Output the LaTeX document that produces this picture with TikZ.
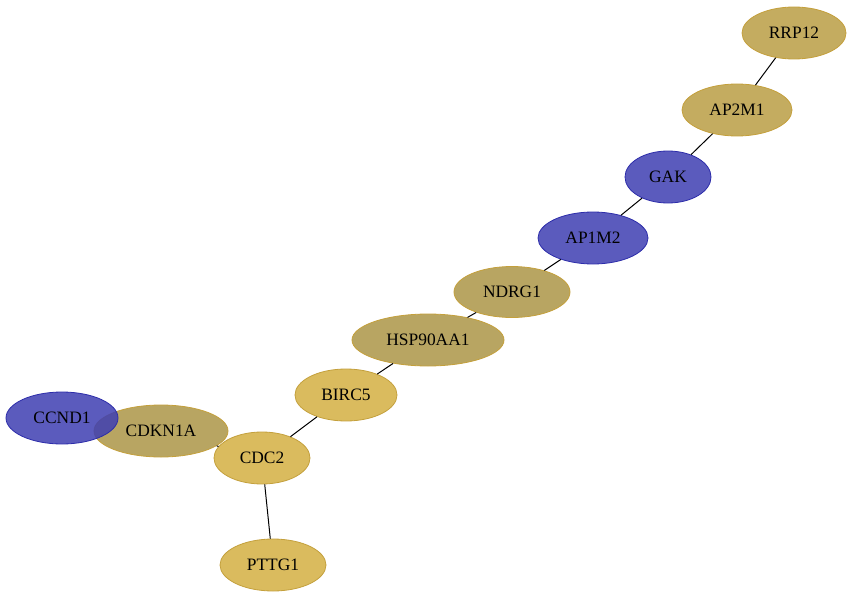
\documentclass[tikz,border=0pt]{standalone}
\usepackage{fontspec}
\setmainfont{Liberation Serif}
\usetikzlibrary{shapes.geometric}
\definecolor{bluefill}{RGB}{62,62,178}
\definecolor{blueline}{RGB}{45,45,170}
\definecolor{goldfill}{RGB}{186,157,68}
\definecolor{darkgoldfill}{RGB}{172,149,70}
\definecolor{lightgoldfill}{RGB}{211,175,66}
\definecolor{goldline}{RGB}{196,160,60}
\tikzset{
    gene/.style={ellipse,inner sep=0pt,line width=.8pt,fill opacity=.85,text opacity=1,
        font=\fontsize{17.4}{20}\selectfont},
    bluegene/.style={gene,draw=blueline,fill=bluefill},
    goldgene/.style={gene,draw=goldline,fill=goldfill},
    darkgene/.style={gene,draw=goldline,fill=darkgoldfill},
    lightgene/.style={gene,draw=goldline,fill=lightgoldfill},
    link/.style={draw=black,line width=1pt}
}
\begin{document}
\begin{tikzpicture}[x=1pt,y=-1pt]
                \useasboundingbox (0,0) rectangle (853,599);
                \node[goldgene,minimum width=104pt,minimum height=52pt] (rrp) at (794,33) {RRP12};
                \node[goldgene,minimum width=110pt,minimum height=52pt] (aptwo) at (737,110) {AP2M1};
                \node[bluegene,minimum width=86pt,minimum height=52pt] (gak) at (668,177) {GAK};
                \node[bluegene,minimum width=110pt,minimum height=52pt] (apone) at (593,238) {AP1M2};
                \node[darkgene,minimum width=116pt,minimum height=51pt] (ndrg) at (512,292) {NDRG1};
                \node[darkgene,minimum width=152pt,minimum height=52pt] (hsp) at (428,340) {HSP90AA1};
                \node[lightgene,minimum width=102pt,minimum height=52pt] (birc) at (346,395) {BIRC5};
                \node[darkgene,minimum width=134pt,minimum height=52pt] (cdkn) at (161,431) {CDKN1A};
                \node[bluegene,minimum width=112pt,minimum height=52pt] (ccnd) at (62,418) {CCND1};
                \node[lightgene,minimum width=96pt,minimum height=52pt] (cdc) at (262,458) {CDC2};
                \node[lightgene,minimum width=106pt,minimum height=52pt] (pttg) at (273,565) {PTTG1};
                \foreach \a/\b in {rrp/aptwo,aptwo/gak,gak/apone,apone/ndrg,ndrg/hsp,hsp/birc,birc/cdc,cdc/cdkn,cdc/pttg}
                {
                    \draw[link] (\a) -- (\b);
                }
            \end{tikzpicture}
\end{document}
